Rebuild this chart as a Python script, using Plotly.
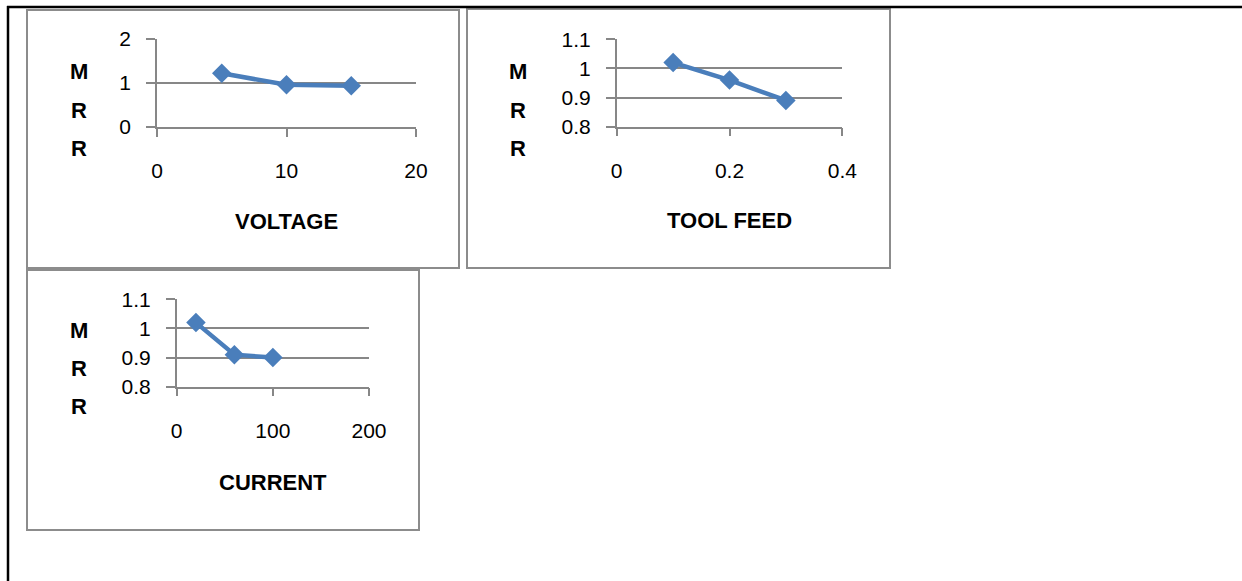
import plotly.graph_objects as go

W, H = 1242, 581

# ---- data ----
voltage = [5, 10, 15]
mrr_voltage = [1.22, 0.96, 0.94]
tool_feed = [0.1, 0.2, 0.3]
mrr_feed = [1.02, 0.96, 0.89]
current = [20, 60, 100]
mrr_current = [1.02, 0.91, 0.90]

x_ticks_voltage = [0, 10, 20]
y_ticks_voltage = [0, 1, 2]
x_ticks_feed = [0, 0.2, 0.4]
y_ticks_feed = [0.8, 0.9, 1.0, 1.1]
x_ticks_current = [0, 100, 200]
y_ticks_current = [0.8, 0.9, 1.0, 1.1]

x_titles = ["VOLTAGE", "TOOL FEED", "CURRENT"]
y_title = "MRR"

# ---- helpers for pixel -> paper ----
def px(x):
    return x / W

def py(y):
    return 1 - y / H

LINE_COL = "#4A7EBB"
GRID_COL = "#878787"
TICK_FONT = dict(family="Liberation Sans, Arial, sans-serif", size=21, color="#000000")
TITLE_FONT = dict(family="Liberation Sans, Arial, sans-serif", size=22, color="#000000")

fig = go.Figure()

panels = [
    # (xdata, ydata, xticks, yticks, plot-area px: left, right, top, bottom)
    (voltage, mrr_voltage, x_ticks_voltage, y_ticks_voltage, (157, 416, 39, 127)),
    (tool_feed, mrr_feed, x_ticks_feed, y_ticks_feed, (616.7, 842.3, 39.3, 126.7)),
    (current, mrr_current, x_ticks_current, y_ticks_current, (176.7, 369, 299.3, 386.7)),
]

layout_axes = {}
for i, (xd, yd, xt, yt, (l, r, t, b)) in enumerate(panels, start=1):
    sfx = "" if i == 1 else str(i)
    fig.add_trace(go.Scatter(
        x=xd, y=yd, mode="lines+markers",
        line=dict(color=LINE_COL, width=4.5),
        marker=dict(symbol="diamond", size=15, color=LINE_COL),
        xaxis="x" + sfx, yaxis="y" + sfx, showlegend=False,
        hoverinfo="x+y",
    ))
    layout_axes["xaxis" + sfx] = dict(
        domain=[px(l), px(r)], range=[xt[0], xt[-1]],
        tickmode="array", tickvals=xt, ticktext=[f"{v:g}" for v in xt],
        showgrid=False, zeroline=False, automargin=False,
        showline=True, linecolor=GRID_COL, linewidth=1.5,
        ticks="outside", ticklen=8, tickwidth=1.5, tickcolor=GRID_COL,
        tickfont=TICK_FONT, ticklabelstandoff=16,
        anchor="y" + sfx, fixedrange=True,
    )
    layout_axes["yaxis" + sfx] = dict(
        domain=[py(b), py(t)], range=[yt[0], yt[-1]],
        tickmode="array", tickvals=yt, ticktext=[f"{v:g}" for v in yt],
        showgrid=True, gridcolor=GRID_COL, gridwidth=1.5,
        zeroline=False, automargin=False,
        showline=True, linecolor=GRID_COL, linewidth=1.5,
        ticks="outside", ticklen=9, tickwidth=1.5, tickcolor=GRID_COL,
        tickfont=TICK_FONT, ticklabelstandoff=11,
        anchor="x" + sfx, fixedrange=True,
    )

fig.update_layout(**layout_axes)

annotations = []
# x-axis titles
title_pos = [(286.5, 221), (729.5, 220), (272.8, 482)]
for txt, (cx, cy) in zip(x_titles, title_pos):
    annotations.append(dict(
        text="<b>%s</b>" % txt, x=px(cx), y=py(cy), xref="paper", yref="paper",
        xanchor="center", yanchor="middle", showarrow=False, font=TITLE_FONT,
    ))
# stacked y-axis titles (one letter per line)
ytitle_pos = [(79, [71, 110, 148]), (518, [71, 110, 148]), (79, [330, 368, 406])]
for cx, ys in ytitle_pos:
    for ch, cy in zip(y_title, ys):
        annotations.append(dict(
            text="<b>%s</b>" % ch, x=px(cx), y=py(cy), xref="paper", yref="paper",
            xanchor="center", yanchor="middle", showarrow=False, font=TITLE_FONT,
        ))

shapes = []
# chart frames (grey)
for (x0, x1, y0, y1) in [(27, 459, 10, 268), (467, 890, 9, 268), (27, 419, 270, 530)]:
    shapes.append(dict(type="rect", xref="paper", yref="paper",
                       x0=px(x0), x1=px(x1), y0=py(y1), y1=py(y0),
                       line=dict(color="#8C8C8C", width=2)))
# outer black page/table borders
shapes.append(dict(type="line", xref="paper", yref="paper",
                   x0=px(7), x1=px(W), y0=py(7), y1=py(7),
                   line=dict(color="#000000", width=2.5)))
shapes.append(dict(type="line", xref="paper", yref="paper",
                   x0=px(8), x1=px(8), y0=py(6), y1=py(H),
                   line=dict(color="#000000", width=2.5)))

fig.update_layout(
    width=W, height=H, autosize=False,
    margin=dict(l=0, r=0, t=0, b=0, pad=0),
    paper_bgcolor="#FFFFFF", plot_bgcolor="#FFFFFF",
    annotations=annotations, shapes=shapes,
)

fig.write_html(
    "out.html",
    config={"displayModeBar": False},
    post_script="document.body.style.margin='0px';document.body.style.overflow='hidden';",
)
